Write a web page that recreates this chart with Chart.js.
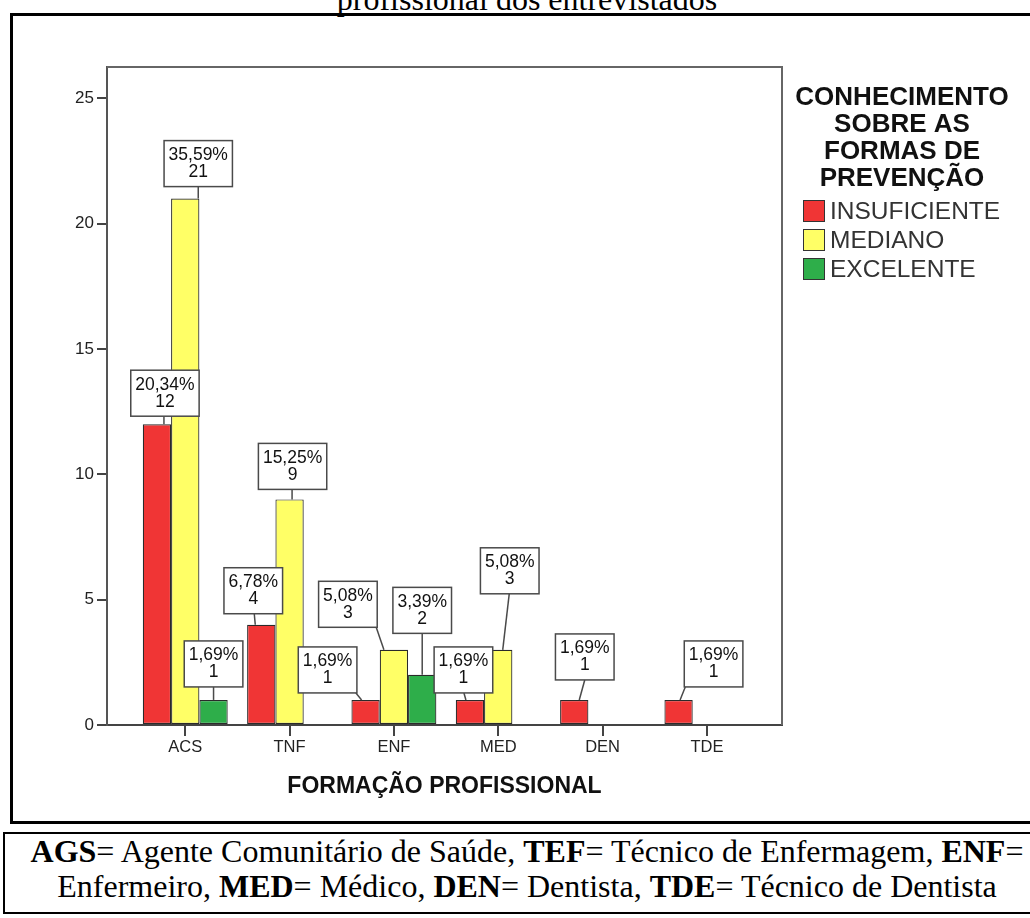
<!DOCTYPE html>
<html>
<head>
<meta charset="utf-8">
<title>Formação profissional</title>
<script src="https://cdn.jsdelivr.net/npm/chart.js@4.4.1/dist/chart.umd.min.js"></script>
<style>
  html, body { margin: 0; padding: 0; background: #fff; }
  #page { position: relative; width: 1030px; height: 918px; overflow: hidden; background: #fff; }
  #frame { position: absolute; left: 10px; top: 13px; width: 1040px; height: 805px; border: 3px solid #000; }
  .serif { position: absolute; left: 0; width: 1054px; text-align: center; white-space: nowrap;
           font-family: "Liberation Serif", "Times New Roman", serif; font-size: 32px; line-height: 32px; color: #000; }
  .serif b { font-weight: bold; }
  #topline { top: -17px; }
  #capbox { position: absolute; left: 3px; top: 832px; width: 1040px; height: 78px; border: 2px solid #000; }
  #cap1 { top: 835px; }
  #cap2 { top: 870px; }
  #c { position: absolute; left: 0; top: 0; }
</style>
</head>
<body>
<div id="page">
  <div class="serif" id="topline">profissional dos entrevistados</div>
  <div id="frame"></div>
  <div id="capbox"></div>
  <div class="serif" id="cap1"><b>AGS</b>= Agente Comunitário de Saúde, <b>TEF</b>= Técnico de Enfermagem, <b>ENF</b>=</div>
  <div class="serif" id="cap2">Enfermeiro, <b>MED</b>= Médico, <b>DEN</b>= Dentista, <b>TDE</b>= Técnico de Dentista</div>
  <canvas id="c" width="1030" height="918"></canvas>
</div>
<script>
// Professional groups on the x axis
const categories = ['ACS', 'TNF', 'ENF', 'MED', 'DEN', 'TDE'];

// Counts per knowledge level
const seriesNames = ['INSUFICIENTE', 'MEDIANO', 'EXCELENTE'];
const insuficiente = [12, 4, 1, 1, 1, 1];
const mediano      = [21, 9, 3, 3, 0, 0];
const excelente    = [1, 0, 2, 0, 0, 0];

// Value axis ticks
const yTicks = [0, 5, 10, 15, 20, 25];

// Legend heading
const legendTitle = ['CONHECIMENTO', 'SOBRE AS', 'FORMAS DE', 'PREVENÇÃO'];
const xTitle = 'FORMAÇÃO PROFISSIONAL';

const seriesColors = ['#f03535', '#ffff66', '#2eae4a'];
const seriesValues = [insuficiente, mediano, excelente];
const total = seriesValues.flat().reduce((a, b) => a + b, 0);

// Callout placement relative to each bar's top centre:
// [box dx, gap between box and bar top, leader start dx, leader end dx]
const calloutPlace = [
  [[8, 8, 7, 7], [-8, 11, -7, -6], [-38, 7, -9, -4], [-6.5, 7, -6, -4], [10.5, 20, 10.5, 5], [35, 13, 6, 1.5]],
  [[13, 12, 13, 13], [3, 10, 2.5, 2.5], [-46, 22.5, -17, -10], [11.5, 56, 11, 4.5], null, null],
  [[0, 13, 0, 0], null, [0, 41.5, 0, 0], null, null, null]
];

const FONT = '"Liberation Sans", Arial, sans-serif';

const pct = v => (v / total * 100).toFixed(2).replace('.', ',') + '%';

const calloutPlugin = {
  id: 'callouts',
  afterDatasetsDraw(chart) {
    const ctx = chart.ctx;
    ctx.save();
    ctx.font = '17.5px ' + FONT;
    chart.data.datasets.forEach((ds, i) => {
      const meta = chart.getDatasetMeta(i);
      meta.data.forEach((bar, j) => {
        const v = ds.data[j].y;
        const place = calloutPlace[i][j];
        if (!v || !place) return;
        const lines = [pct(v), String(v)];
        const w = Math.max(...lines.map(t => ctx.measureText(t).width)) + 9;
        const h = 46;
        const cx = bar.x + place[0];
        const bottom = bar.y - place[1];
        const top = bottom - h;
        const left = cx - w / 2;
        const sx = Math.min(Math.max(bar.x + place[2], left + 1), left + w - 1);
        ctx.strokeStyle = '#4a4a4a';
        ctx.lineWidth = 1.5;
        ctx.beginPath();
        ctx.moveTo(sx, bottom);
        ctx.lineTo(bar.x + place[3], bar.y);
        ctx.stroke();
        ctx.fillStyle = '#fff';
        ctx.fillRect(left, top, w, h);
        ctx.strokeRect(left, top, w, h);
        ctx.fillStyle = '#111';
        ctx.textAlign = 'center';
        ctx.textBaseline = 'middle';
        ctx.fillText(lines[0], cx, top + 14.5);
        ctx.fillText(lines[1], cx, top + 31.5);
      });
    });
    ctx.restore();
  }
};

const framePlugin = {
  id: 'plotFrame',
  beforeDatasetsDraw(chart) {
    const {ctx, chartArea: a} = chart;
    ctx.save();
    ctx.strokeStyle = '#666';
    ctx.lineWidth = 2;
    ctx.beginPath();
    ctx.moveTo(a.left, a.top);
    ctx.lineTo(a.right, a.top);
    ctx.lineTo(a.right, a.bottom);
    ctx.stroke();
    ctx.restore();
  }
};

const legendPlugin = {
  id: 'sideLegend',
  afterDraw(chart) {
    const ctx = chart.ctx;
    ctx.save();
    ctx.fillStyle = '#111';
    ctx.textAlign = 'center';
    ctx.textBaseline = 'middle';
    ctx.font = 'bold 26px ' + FONT;
    legendTitle.forEach((t, k) => ctx.fillText(t, 902, 97.5 + k * 27));
    ctx.textAlign = 'left';
    ctx.font = '24.5px ' + FONT;
    chart.data.datasets.forEach((ds, i) => {
      const yc = 211 + i * 29;
      ctx.fillStyle = ds.backgroundColor;
      ctx.fillRect(803, yc - 11, 22, 22);
      ctx.strokeStyle = '#333';
      ctx.lineWidth = 1;
      ctx.strokeRect(803.5, yc - 10.5, 21, 21);
      ctx.fillStyle = '#333';
      ctx.fillText(ds.label, 830, yc + 1);
    });
    ctx.restore();
  }
};

const datasets = seriesNames.map((name, i) => ({
  label: name,
  data: seriesValues[i].map((v, j) => ({x: j, y: v})),
  backgroundColor: seriesColors[i],
  borderColor: '#2a2a2a',
  borderWidth: c => (c.raw && c.raw.y > 0 ? 1.2 : 0),
  borderSkipped: false,
  categoryPercentage: 0.814,
  barPercentage: 1
}));

new Chart(document.getElementById('c'), {
  type: 'bar',
  data: { datasets },
  plugins: [framePlugin, calloutPlugin, legendPlugin],
  options: {
    responsive: false,
    animation: false,
    devicePixelRatio: 1,
    layout: { padding: { left: 0, top: 67, right: 248, bottom: 118 } },
    plugins: { legend: { display: false }, tooltip: { enabled: false } },
    scales: {
      x: {
        type: 'linear',
        offset: false,
        min: -0.75,
        max: 5.72,
        afterBuildTicks: s => { s.ticks = categories.map((_, i) => ({value: i})); },
        afterFit: s => { s.height = 75; },
        ticks: {
          callback: v => categories[v],
          font: { family: FONT, size: 16.5 },
          color: '#222',
          padding: 2,
          maxRotation: 0,
          autoSkip: false
        },
        grid: { offset: false, drawOnChartArea: false, drawTicks: true, tickLength: 11, color: '#444', lineWidth: 2 },
        border: { display: true, color: '#444', width: 2 },
        title: { display: true, text: xTitle, font: { family: FONT, size: 23, weight: 'bold' }, color: '#111', padding: 0 }
      },
      y: {
        min: 0,
        max: 26.25,
        afterBuildTicks: s => { s.ticks = yTicks.map(v => ({value: v})); },
        afterFit: s => { s.width = 107; },
        ticks: {
          font: { family: FONT, size: 17 },
          color: '#222',
          padding: 3
        },
        grid: { drawOnChartArea: false, drawTicks: true, tickLength: 10, color: '#444', lineWidth: 2 },
        border: { display: true, color: '#555', width: 2 }
      }
    }
  }
});
</script>
</body>
</html>
